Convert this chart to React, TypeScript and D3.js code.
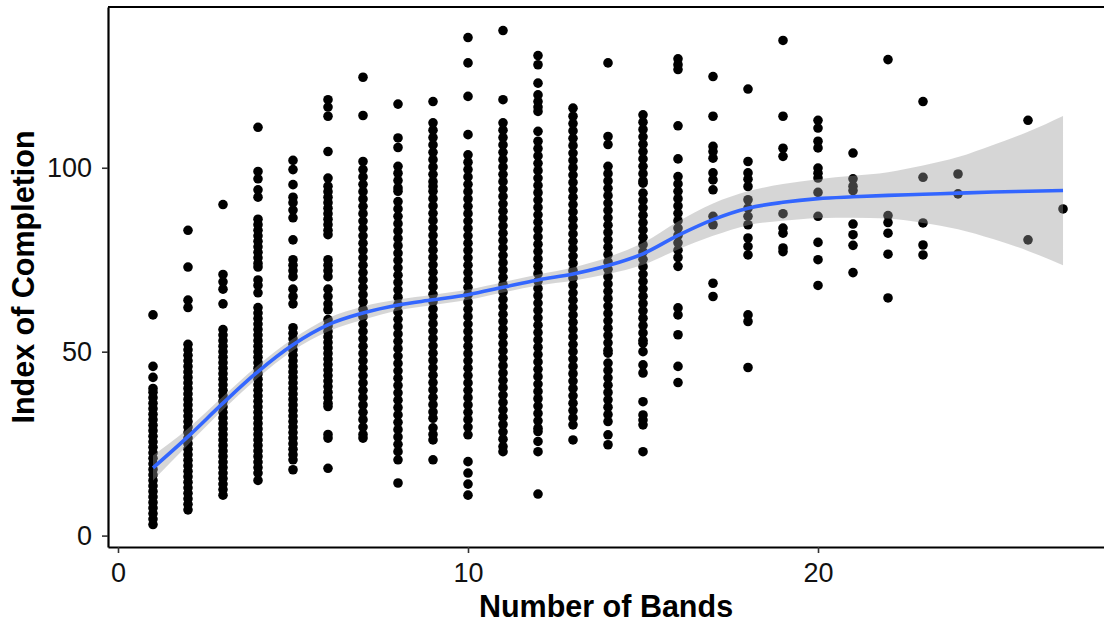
import React, { useEffect, useRef } from "react";
import * as d3 from "d3";

// Number of bands observed (x positions of each column of points)
const bandCounts = [1, 2, 3, 4, 5, 6, 7, 8, 9, 10, 11, 12, 13, 14, 15, 16, 17, 18, 19, 20, 21, 22, 23, 24, 26, 27];

// Index of completion values for each band count (same order as bandCounts)
const completion: number[][] = [
  [60, 46, 43, 40, 39, 37.5, 36, 34.5, 33, 31.5, 30, 28.5, 27, 25.5, 24, 22.5, 21, 19.5, 18, 16.5, 15, 13.5, 12, 10.5, 9, 7.5, 6, 4.5, 3],
  [83, 73, 64, 62, 52, 50.5, 49, 47.5, 46, 44.5, 43, 41.5, 40, 38.5, 37, 35.5, 34, 32.5, 31, 29.5, 28, 26.5, 25, 23.5, 22, 20.5, 19, 17.5, 16, 14.5, 13, 11.5, 10, 8.5, 7],
  [90, 71, 69, 67, 63, 56, 54.5, 53, 51.5, 50, 48.5, 47, 45.5, 44, 42.5, 41, 39.5, 38, 36.5, 35, 33.5, 32, 30.5, 29, 27.5, 26, 24.5, 23, 21.5, 20, 18.5, 17, 15.5, 14, 12.5, 11],
  [111, 99, 97, 94, 92, 86, 84.5, 83, 81.5, 80, 78.5, 77, 75.5, 74, 73, 69.5, 68, 66, 62, 60.5, 59, 57.5, 56, 54.5, 53, 51.5, 50, 48.5, 47, 45.5, 44, 42.5, 41, 39.5, 38, 36.5, 35, 33.5, 32, 30.5, 29, 27.5, 26, 24.5, 23, 21.5, 20, 18.5, 17, 15],
  [102, 99.5, 95.4, 92, 90.5, 88.5, 86.4, 80.4, 75, 73.5, 72, 70.4, 67, 65, 63, 56.5, 55, 53.5, 52, 50.5, 49, 47.5, 46, 44.5, 43, 41.5, 40, 38.5, 37, 35.5, 34, 32.5, 31, 29.5, 28, 26.5, 25, 23.5, 22, 20.6, 17.9],
  [118.5, 116.5, 114, 104.4, 97.2, 95, 93.5, 92, 90.5, 89, 87.5, 86, 84.5, 83, 81.8, 75, 73.5, 72, 70.4, 67, 65, 63, 61.4, 58.7, 57, 55.5, 54, 52.5, 51, 49.5, 48, 46.5, 45, 43.5, 42, 40.5, 39, 37.5, 36, 35.1, 27.5, 26.5, 18.3],
  [124.6, 114.2, 101.7, 99.5, 97.5, 95.5, 93.5, 91.5, 89.5, 87.5, 85.5, 83.5, 81.5, 79.5, 77.5, 75.5, 73.5, 71.5, 69.5, 67.5, 65.5, 63.5, 61.5, 59.5, 57.5, 55.5, 53.5, 51.5, 49.5, 47.5, 45.5, 43.5, 41.5, 39.5, 37.5, 35.5, 33.5, 31.5, 29.5, 27.5, 26.5],
  [117.3, 108.1, 105.5, 100.4, 98.5, 96.5, 94.5, 93.6, 90.8, 88.8, 86.8, 84.8, 82.8, 80.8, 78.8, 76.8, 74.8, 72.8, 70.8, 68.8, 66.8, 64.8, 62.8, 60.8, 58.8, 56.8, 54.8, 52.8, 50.8, 48.8, 46.8, 44.8, 42.8, 40.8, 38.8, 36.8, 34.8, 32.8, 30.8, 28.8, 26.8, 24.8, 22.8, 20.6, 14.3],
  [118, 112.2, 110.2, 108.2, 106.2, 104.2, 102.2, 100.2, 98.2, 96.2, 94.9, 93.6, 91.6, 89.6, 87.6, 85.6, 83.6, 81.6, 79.6, 77.6, 75.6, 73.6, 71.6, 69.6, 67.6, 65.6, 63.6, 61.6, 59.6, 57.6, 55.6, 53.6, 51.6, 49.6, 47.6, 45.6, 43.6, 41.6, 39.6, 37.6, 35.6, 33.6, 31.9, 29.3, 27.5, 26, 20.6],
  [135.4, 128.5, 119.4, 109, 103.5, 101.5, 99.5, 97.5, 95.5, 93.5, 91.5, 89.5, 87.5, 85.5, 83.5, 81.5, 79.5, 77.5, 75.5, 73.5, 71.5, 69.5, 67.5, 65.5, 63.5, 61.5, 59.5, 57.5, 55.5, 53.5, 51.5, 49.5, 47.5, 45.5, 43.5, 41.5, 39.5, 37.5, 35.5, 33.5, 31.5, 29.5, 27.4, 20.1, 17, 14, 11],
  [137.3, 118.5, 112.2, 110.2, 108.2, 106.2, 104.2, 102.2, 100.2, 98.2, 96.2, 94.2, 92.2, 90.2, 88.2, 86.2, 84.2, 82.2, 80.2, 78.2, 76.2, 74.2, 72.2, 70.2, 68.2, 66.2, 64.2, 62.2, 60.2, 58.2, 56.2, 54.2, 52.2, 50.2, 48.2, 46.2, 44.2, 42.2, 40.2, 38.2, 36.2, 34.2, 32.2, 30.2, 28.2, 26.2, 24.2, 22.8],
  [130.5, 128, 123, 119.8, 118, 116.5, 115.3, 109.9, 107.2, 105.2, 103.2, 101.2, 99.2, 97.2, 95.2, 93.2, 91.2, 89.2, 87.2, 85.2, 83.2, 81.2, 79.2, 77.2, 75.2, 73.2, 71.2, 69.2, 67.2, 65.2, 63.2, 61.2, 59.2, 57.2, 55.2, 53.2, 51.2, 49.2, 47.2, 45.2, 43.2, 41.2, 39.2, 37.2, 35.2, 33.2, 31.2, 29.2, 28.3, 25.6, 22.8, 11.3],
  [116.2, 114, 112, 110, 108, 106, 104, 102, 100, 98, 96, 94, 92, 90, 88, 86, 84, 82, 80, 78, 76, 74, 72, 70, 68, 66, 64, 62, 60, 58, 56, 54, 52, 50, 48, 46, 44, 42, 40, 38, 36, 34, 32, 30.1, 26],
  [128.5, 108.5, 106.3, 100.4, 98.4, 96.4, 94.4, 92.4, 90.4, 88.4, 86.4, 84.4, 82.4, 80.4, 78.4, 76.4, 74.4, 72.4, 70.4, 68.4, 66.4, 64.4, 62.4, 60.4, 58.4, 56.4, 54.4, 52.4, 50.4, 49.6, 46.9, 44.9, 42.9, 40.9, 38.9, 36.9, 34.9, 32.9, 31, 27.4, 24.7],
  [114.4, 112.4, 110.4, 108.4, 106.4, 104.4, 102.4, 100.4, 98.4, 96.4, 95.8, 93.1, 91.1, 89.1, 87.1, 85.1, 83.1, 81.1, 79.1, 77.1, 75.1, 73.1, 71.1, 69.1, 67.1, 65.1, 63.1, 61.1, 59.1, 57.1, 55.1, 53.1, 52.3, 50, 46.4, 44.2, 36.4, 32.8, 31.4, 30.1, 22.8],
  [129.6, 128, 126.7, 111.4, 102.4, 97.6, 95.6, 93.6, 91.6, 89.6, 87.6, 85.6, 83.6, 81.6, 79.6, 77.6, 75.6, 73.2, 61.9, 60, 54.6, 46, 41.6],
  [124.8, 114, 105.8, 104.4, 102.6, 98.6, 96.7, 94, 86.8, 84.5, 68.6, 65],
  [121.4, 101.7, 98.6, 96.9, 94.9, 91.3, 89, 86.8, 84.5, 80.9, 78.6, 76.3, 60, 58.2, 45.7],
  [134.6, 114, 105.3, 103.1, 87.5, 83.6, 82.2, 78.2, 77.2],
  [112.9, 110.8, 107.2, 105.4, 99.9, 98.5, 97.2, 93.3, 86.8, 79.7, 75, 68],
  [104, 97, 95, 93.8, 84.7, 81.8, 78.9, 71.5],
  [129.4, 87, 85.1, 82.2, 76.5, 64.6],
  [118, 97.4, 85, 79, 76.3],
  [98.3, 92.9],
  [112.9, 80.4],
  [88.8],
];

// Loess fit: band count, fitted value and half-width of its confidence band
const fitX = [1, 2, 3, 4, 5, 6, 7, 8, 9, 10, 11, 12, 13, 14, 15, 16, 17, 18, 19, 20, 21, 22, 23, 24, 25, 26, 27];
const fitY = [18.4, 26.9, 36.0, 44.6, 51.9, 57.3, 60.5, 62.7, 64.1, 65.5, 67.5, 69.5, 71.1, 73.4, 76.6, 81.6, 85.9, 89.0, 90.6, 91.6, 92.1, 92.5, 92.8, 93.1, 93.4, 93.6, 93.8];
const fitSe = [3.4, 2.2, 1.8, 1.7, 1.6, 1.8, 1.8, 1.5, 1.4, 1.4, 1.4, 1.5, 1.8, 2.3, 3.0, 3.8, 4.4, 4.6, 5.0, 5.3, 5.7, 6.3, 7.8, 9.8, 12.8, 16.2, 20.3];

const xTicks = [0, 10, 20];
const yTicks = [0, 50, 100];

const W = 1104;
const H = 628;
const panel = { left: 108, right: 1104, top: 7, bottom: 547 };
const FONT = "'Liberation Sans', Arial, Helvetica, sans-serif";

export default function App() {
  const xAxisRef = useRef<SVGGElement>(null);
  const yAxisRef = useRef<SVGGElement>(null);

  const x = d3.scaleLinear().domain([-0.2857, 28.171]).range([panel.left, panel.right]);
  const y = d3.scaleLinear().domain([-3.1, 143.7]).range([panel.bottom, panel.top]);

  const fit = fitX.map((b, i) => ({ b, v: fitY[i], se: fitSe[i] }));
  const area = d3
    .area<{ b: number; v: number; se: number }>()
    .x((d) => x(d.b))
    .y0((d) => y(d.v - d.se))
    .y1((d) => y(d.v + d.se))
    .curve(d3.curveMonotoneX);
  const line = d3
    .line<{ b: number; v: number; se: number }>()
    .x((d) => x(d.b))
    .y((d) => y(d.v))
    .curve(d3.curveMonotoneX);

  useEffect(() => {
    const styleAxis = (g: d3.Selection<SVGGElement, unknown, null, undefined>) => {
      g.select(".domain").attr("stroke", "#000").attr("stroke-width", 2.2);
      g.selectAll(".tick line").attr("stroke", "#333").attr("stroke-width", 1.6);
      g.selectAll(".tick text")
        .attr("fill", "#111")
        .style("font-family", FONT)
        .style("font-size", "27px");
    };
    if (xAxisRef.current) {
      const g = d3.select(xAxisRef.current);
      g.call(d3.axisBottom(x).tickValues(xTicks).tickSize(6).tickSizeOuter(0).tickPadding(10));
      g.attr("font-family", null).attr("font-size", null);
      styleAxis(g);
    }
    if (yAxisRef.current) {
      const g = d3.select(yAxisRef.current);
      g.call(d3.axisLeft(y).tickValues(yTicks).tickSize(6).tickSizeOuter(0).tickPadding(10));
      g.attr("font-family", null).attr("font-size", null);
      styleAxis(g);
    }
  });

  return (
    <svg
      width={W}
      height={H}
      style={{ position: "absolute", left: 0, top: 0, background: "#fff" }}
      fontFamily={FONT}
    >
      <rect x={0} y={0} width={W} height={H} fill="#fff" />
      <g>
        {bandCounts.map((b, i) =>
          completion[i].map((v, j) => (
            <circle key={`${b}-${j}`} cx={x(b)} cy={y(v)} r={4.8} fill="#000" />
          ))
        )}
      </g>
      <path d={area(fit) ?? ""} fill="#999999" fillOpacity={0.4} />
      <path d={line(fit) ?? ""} fill="none" stroke="#3366FF" strokeWidth={3.6} />
      <line x1={panel.left} x2={panel.right} y1={panel.top} y2={panel.top} stroke="#000" strokeWidth={2.2} />
      <g ref={xAxisRef} transform={`translate(0,${panel.bottom})`} />
      <g ref={yAxisRef} transform={`translate(${panel.left},0)`} />
      <text
        x={(panel.left + panel.right) / 2}
        y={617}
        textAnchor="middle"
        fontWeight="bold"
        fontSize={30.5}
        fill="#000"
      >
        Number of Bands
      </text>
      <text
        transform={`translate(34,${(panel.top + panel.bottom) / 2}) rotate(-90)`}
        textAnchor="middle"
        fontWeight="bold"
        fontSize={30.5}
        fill="#000"
      >
        Index of Completion
      </text>
    </svg>
  );
}
